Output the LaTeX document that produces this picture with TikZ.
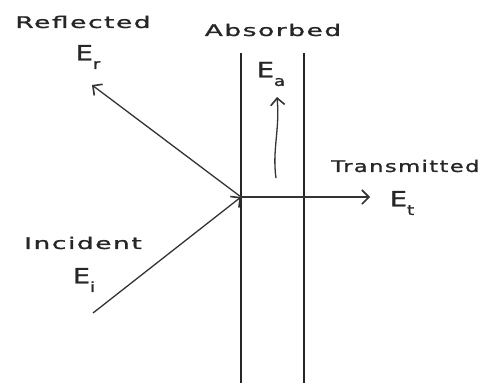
\documentclass[tikz,border=0pt]{standalone}
\usepackage{fontspec}
\setmainfont{DejaVu Sans}[FakeBold=1]
\usetikzlibrary{arrows.meta}
\newcommand{\sub}[1]{\raisebox{-0.75ex}{\fontsize{14}{14}\selectfont #1}}
\tikzset{
  wall/.style={line width=2.4pt, black!85},
  ray/.style={line width=1.3pt, black!80, -{Straight Barb[length=7pt,width=14pt,line width=1.6pt]}},
  lbl/.style={font=\fontsize{16}{16}\selectfont\addfontfeature{LetterSpace=6}, inner sep=0pt, text=black!85, xscale=1.65},
  elbl/.style={font=\fontsize{21}{21}\selectfont, inner sep=0pt, text=black!85, xscale=1.3}
}
\begin{document}
\begin{tikzpicture}[x=1pt,y=-1pt]
\useasboundingbox (0,0) rectangle (486,383);
% walls
\coordinate (W1t) at (241,53); \coordinate (W1b) at (241,383);
\coordinate (W2t) at (304,53); \coordinate (W2b) at (304,383);
\draw[wall] (W1t) -- (W1b);
\draw[wall] (W2t) -- (W2b);
% rays
\coordinate (P) at (241,197);
\coordinate (I) at (93,313);
\coordinate (R) at (92,85);
\coordinate (T) at (370,197);
\coordinate (A0) at (276,178);
\coordinate (A1) at (277,97);
\draw[ray] (I) -- (P);
\draw[ray] (P) -- (R);
\draw[ray] (P) -- (T);
\draw[ray] (A0) .. controls (272,150) and (280,130) .. (A1);
% labels
\node[lbl] (reflected) at (83,22) {Reflected};
\node[elbl] (Er) at (88,57) {E\sub{r}};
\node[lbl] (absorbed) at (273,30) {Absorbed};
\node[elbl] (Ea) at (271,74) {E\sub{a}};
\node[lbl,anchor=west,xscale=0.86] (transmitted) at (331,166) {Transmitted};
\node[elbl] (Et) at (402,203) {E\sub{t}};
\node[lbl] (incident) at (83,243) {Incident};
\node[elbl] (Ei) at (84,280) {E\sub{i}};
\end{tikzpicture}
\end{document}
